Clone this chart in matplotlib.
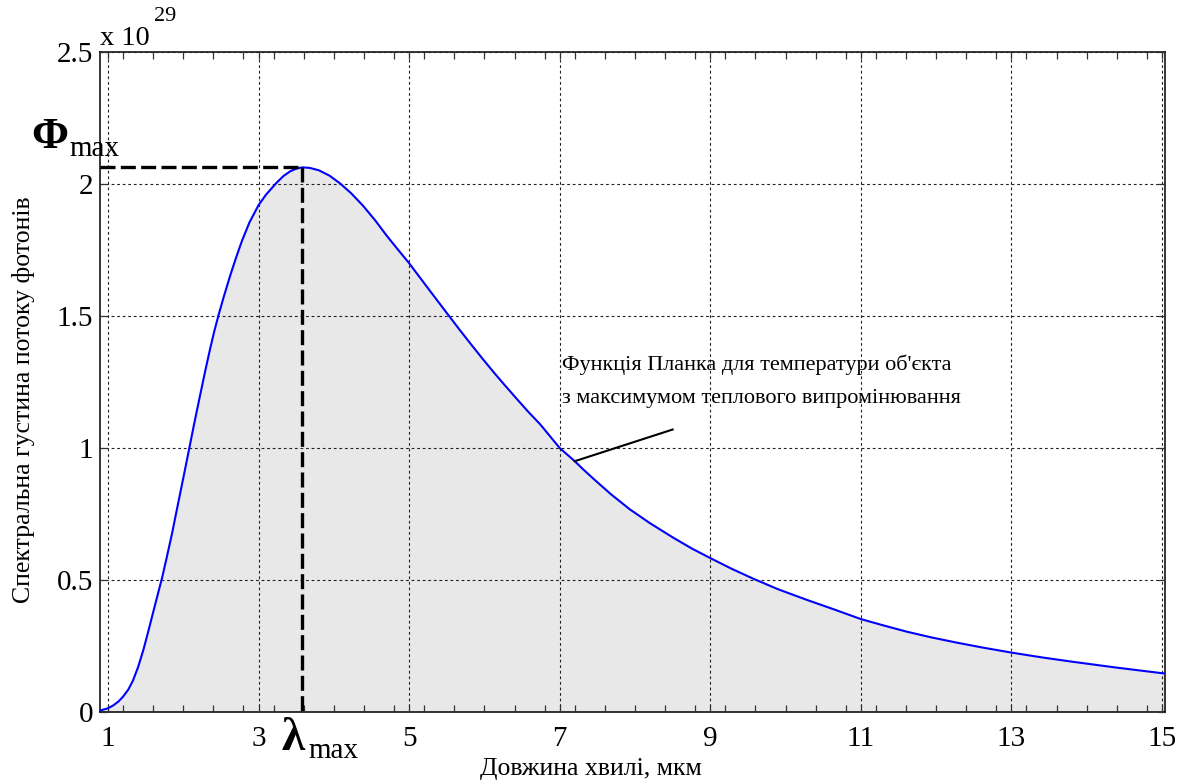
import matplotlib.pyplot as plt
from matplotlib.ticker import MultipleLocator

plt.rcParams['font.family'] = ['Liberation Serif', 'DejaVu Serif']

# photon flux spectral density vs wavelength (units of 1e29)
wavelength = [0.9, 1.0, 1.07, 1.14, 1.2, 1.27, 1.33, 1.40, 1.47, 1.535, 1.62,
              1.72, 1.78, 1.85, 1.91, 1.96, 2.01, 2.07, 2.14, 2.22, 2.29, 2.36,
              2.41, 2.47, 2.54, 2.62, 2.70, 2.78, 2.88, 3.0, 3.1, 3.24, 3.33,
              3.42, 3.5, 3.58, 3.68, 3.8, 3.94, 4.08, 4.23, 4.39, 4.55, 4.70,
              4.85, 5.0, 5.14, 5.28, 5.4, 5.52, 5.67, 5.83, 5.97, 6.12, 6.27,
              6.43, 6.58, 6.74, 6.87, 7.0, 7.1, 7.2, 7.32, 7.45, 7.68, 7.93,
              8.2, 8.51, 8.75, 9.0, 9.28, 9.57, 9.9, 10.28, 10.63, 11.0, 11.3,
              11.6, 11.93, 12.27, 12.6, 13.0, 13.4, 13.82, 14.4, 15.0, 15.04]
flux = [0.006, 0.014, 0.025, 0.040, 0.058, 0.085, 0.118, 0.17, 0.235, 0.305,
        0.40, 0.51, 0.585, 0.675, 0.76, 0.83, 0.90, 0.985, 1.085, 1.195, 1.29,
        1.38, 1.44, 1.505, 1.575, 1.65, 1.72, 1.785, 1.855, 1.92, 1.96, 2.005,
        2.03, 2.048, 2.058, 2.063, 2.061, 2.052, 2.032, 2.003, 1.965, 1.917,
        1.862, 1.805, 1.752, 1.700, 1.647, 1.594, 1.549, 1.504, 1.448, 1.390,
        1.340, 1.288, 1.238, 1.186, 1.138, 1.090, 1.045, 1.0, 0.975, 0.95,
        0.917, 0.883, 0.825, 0.768, 0.715, 0.66, 0.62, 0.583, 0.543, 0.505,
        0.465, 0.425, 0.39, 0.352, 0.328, 0.305, 0.283, 0.263, 0.245, 0.225,
        0.207, 0.19, 0.168, 0.147, 0.146]

lam_max = 3.58
phi_max = 2.063

x_ticks = [1, 3, 5, 7, 9, 11, 13, 15]
y_ticks = [0, 0.5, 1, 1.5, 2, 2.5]
y_tick_labels = ['0', '0.5', '1', '1.5', '2', '2.5']

W, H = 1187, 781
fig = plt.figure(figsize=(W / 100, H / 100), dpi=100)
ax = fig.add_axes([100 / W, 1 - 712 / H, 1065 / W, 660 / H])


def px(x, y):
    # pixel position -> figure fraction
    return x / W, 1 - y / H


ax.fill_between(wavelength, flux, 0, color='#e8e8e8', lw=0, zorder=1)
ax.plot(wavelength, flux, color='#0000ff', lw=1.5, zorder=3)

# dashed markers for the maximum
ax.plot([0.894, lam_max], [phi_max, phi_max], color='black', lw=2.4,
        linestyle=(0, (4.5, 1.6)), zorder=4)
ax.plot([lam_max, lam_max], [phi_max, 0], color='black', lw=2.4,
        linestyle=(0, (4.5, 1.6)), zorder=4)

ax.set_xlim(0.894, 15.04)
ax.set_ylim(0, 2.5)
ax.set_xticks(x_ticks)
ax.set_xticklabels([str(t) for t in x_ticks])
ax.xaxis.set_minor_locator(MultipleLocator(0.4))
ax.set_yticks(y_ticks)
ax.set_yticklabels(y_tick_labels)

ax.grid(True, which='major', color='#222222', lw=0.8, linestyle=(0, (2.5, 2.5)))
ax.set_axisbelow(False)
for ln in ax.get_xgridlines() + ax.get_ygridlines():
    ln.set_zorder(2)

ax.tick_params(axis='both', which='both', direction='in', top=True, right=True,
               length=5, width=0.9, color='#333333')
ax.tick_params(axis='x', which='major', labelsize=21, pad=10)
ax.tick_params(axis='y', which='major', labelsize=21, pad=5)
for s in ax.spines.values():
    s.set_linewidth(1.1)

fig.text(*px(591, 769), 'Довжина хвилі, мкм', fontsize=18.5,
         ha='center', va='center')
fig.text(*px(24, 400), 'Спектральна густина потоку фотонів', fontsize=18.5,
         rotation=90, ha='center', va='center')

# exponent label above the axis
fig.text(*px(100, 45), 'x 10', fontsize=20.5, ha='left', va='baseline')
fig.text(*px(154, 21), '29', fontsize=16, ha='left', va='baseline')

# Phi_max and lambda_max labels
fig.text(*px(31, 148), 'Φ', fontsize=32, fontweight='bold',
         ha='left', va='baseline')
fig.text(*px(69, 156), 'max', fontsize=21, ha='left', va='baseline')
fig.text(*px(281, 750), 'λ', fontsize=34, fontweight='bold',
         ha='left', va='baseline')
fig.text(*px(308, 758), 'max', fontsize=21, ha='left', va='baseline')

# annotation for the curve
ax.text(7.03, 1.297, "Функція Планка для температури об'єкта", fontsize=16,
        ha='left', va='baseline')
ax.text(7.03, 1.172, 'з максимумом теплового випромінювання', fontsize=16,
        ha='left', va='baseline')
ax.plot([7.2, 8.5], [0.95, 1.07], color='black', lw=1.5, zorder=5)

plt.savefig('out.png', dpi=100)
